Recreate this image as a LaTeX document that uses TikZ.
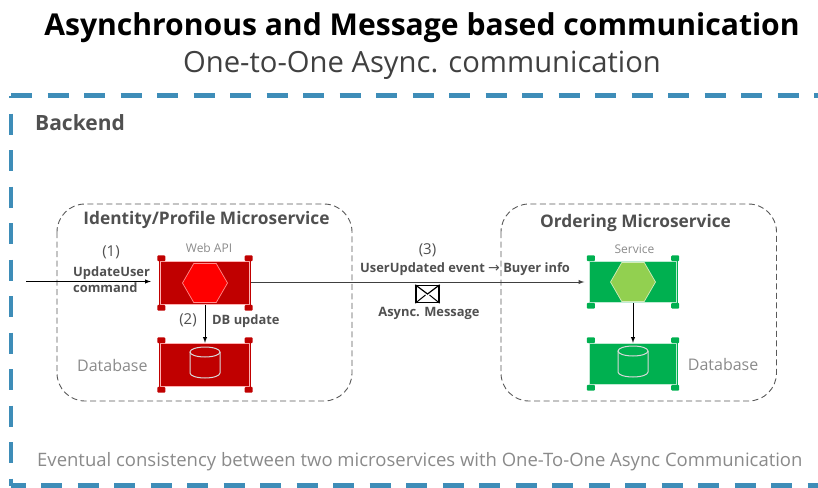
\documentclass[tikz,border=0pt]{standalone}
\usepackage{fontspec}
\setmainfont{Open Sans}
\newfontfamily\arrowfont{DejaVu Sans}
\usepackage{tikz}
\usetikzlibrary{shapes}
\usetikzlibrary{shapes.geometric}
\usetikzlibrary{arrows}
\usetikzlibrary{positioning}

\definecolor{backendblue}{HTML}{3E8DB8}
\definecolor{darkred}{HTML}{C00000}
\definecolor{brightred}{HTML}{FF0000}
\definecolor{okgreen}{HTML}{00B050}
\definecolor{limegreen}{HTML}{92D050}
\definecolor{greytext}{HTML}{8A8A8A}
\definecolor{darktext}{HTML}{505050}

\tikzset{
  svcbox/.style={draw=none, fill=#1, minimum width=92, minimum height=44, inner sep=0},
  svchex/.style 2 args={draw=#1, fill=#2, regular polygon, regular polygon sides=6, minimum size=45, inner sep=0, line width=.7},
  msbox/.style={draw=black!65, dash pattern=on 6 off 3.5, line width=.9, rounded corners=28},
  frameline/.style={-, backendblue, line width=4.5},
  boldlabel/.style={font=\fontsize{12.9}{16}\selectfont\bfseries, text=darktext, inner sep=0},
  thinlabel/.style={font=\fontsize{12}{14}\selectfont, text=greytext, inner sep=0},
  numlabel/.style={font=\fontsize{15}{17}\selectfont, text=darktext, inner sep=0}
}

% corner tabs and inner line of a service box
\newcommand{\boxtabs}[3]{
  \draw [-, #3, line width=.9] ([xshift=1.5,yshift=-.5]#1.north west) rectangle ([xshift=-1.5,yshift=.5]#1.south east);
  \fill [#2, rounded corners=1] ([xshift=-1.5,yshift=5.5]#1.north west) rectangle ([xshift=6.5,yshift=-.4]#1.north west);
  \fill [#2, rounded corners=1] ([xshift=1.5,yshift=5.5]#1.north east) rectangle ([xshift=-6.5,yshift=-.4]#1.north east);
  \fill [#2, rounded corners=1] ([xshift=-1.5,yshift=-5.5]#1.south west) rectangle ([xshift=6.5,yshift=.4]#1.south west);
  \fill [#2, rounded corners=1] ([xshift=1.5,yshift=-5.5]#1.south east) rectangle ([xshift=-6.5,yshift=.4]#1.south east);
}
% database drum inside a service box
\newcommand{\dbdrum}[1]{
  \draw [-, white!85!black, line width=1] ([xshift=-15,yshift=13]#1.center) -- ([xshift=-15,yshift=-8]#1.center)
    arc [start angle=180, end angle=0, x radius=15, y radius=5]
    -- ([xshift=15,yshift=13]#1.center);
  \draw [-, white!85!black, line width=1] ([yshift=13]#1.center) ellipse [x radius=15, y radius=5];
}

\begin{document}
\begin{tikzpicture}[x=1pt, y=-1pt, node distance=82, -latex]
  \useasboundingbox (0,0) rectangle (818,487);

  % titles
  \node [inner sep=0, font=\fontsize{30.1}{34}\selectfont\bfseries] (title) at (422,28) {Asynchronous and Message based communication};
  \node [inner sep=0, font=\fontsize{29.2}{34}\selectfont, text=black!75, below of=title, node distance=37] (subtitle) {One-to-One Async. communication};

  % outer frame
  \coordinate (frametl) at (11,95.5);
  \coordinate (frametr) at (818,95.5);
  \coordinate (framebl) at (11,485.5);
  \coordinate (framebr) at (818,485.5);
  \draw [frameline, dash pattern=on 21 off 15.5] (frametl) -- (frametr);
  \draw [frameline, dash pattern=on 21 off 15.5, dash phase=18.5] (frametl) -- (framebl);
  \draw [frameline, dash pattern=on 21 off 15.5, dash phase=6.5] (framebl) -- (framebr);
  \node [boldlabel, anchor=west, font=\fontsize{21}{24}\selectfont\bfseries] (backend) at (35,123) {Backend};
  \node [thinlabel, anchor=west, font=\fontsize{18.5}{22}\selectfont] (note) at (37,462) {Eventual consistency between two microservices with One-To-One Async Communication};

  % microservice outlines
  \draw [-, msbox] (57,204) rectangle (352,401);
  \draw [-, msbox] (501,204) rectangle (776.5,401);
  \node [boldlabel, font=\fontsize{17.3}{20}\selectfont\bfseries] (identity) at (206.5,220) {Identity/Profile Microservice};
  \node [boldlabel, font=\fontsize{17.3}{20}\selectfont\bfseries] (ordering) at (635.5,223) {Ordering Microservice};

  % service boxes
  \node [svcbox=darkred] (webapi) at (205,283) {};
  \node [svcbox=darkred, below of=webapi] (userdb) {};
  \node [svcbox=okgreen, minimum width=89, minimum height=42] (service) at (633,282) {};
  \node [svcbox=okgreen, minimum width=89, minimum height=42, below of=service] (orderdb) {};
  \boxtabs{webapi}{darkred}{red!30!white}
  \boxtabs{userdb}{darkred}{red!30!white}
  \boxtabs{service}{okgreen}{white!75!okgreen}
  \boxtabs{orderdb}{okgreen}{white!75!okgreen}
  \node [svchex={red!45!white}{brightred}] (webhex) at (webapi) {};
  \node [svchex={white!60!limegreen}{limegreen}] (svchex) at (service) {};
  \dbdrum{userdb}
  \dbdrum{orderdb}

  \node [thinlabel, above=8pt of webapi, xshift=4pt] (webapilabel) {Web API};
  \node [thinlabel, above=7pt of service, xshift=1.5pt] (servicelabel) {Service};
  \node [thinlabel, font=\fontsize{16}{20}\selectfont, left=11pt of userdb] (userdblabel) {Database};
  \node [thinlabel, font=\fontsize{16}{20}\selectfont, right=10pt of orderdb] (orderdblabel) {Database};

  % connectors
  \coordinate (entry) at (26,281.5);
  \draw [black, line width=1, shorten >=8pt] (entry) -- (webapi.west |- entry);
  \draw [black, line width=1] (webapi) -- (userdb);
  \draw [black!75, line width=1, shorten >=4pt] (webapi.east |- service) -- (service);
  \draw [black, line width=1] (service) -- (orderdb);

  % labels
  \node [numlabel] (step1) at (111,252) {(1)};
  \node [boldlabel, align=left, anchor=west] (update) at (73,280) {UpdateUser\\command};
  \node [numlabel] (step2) at (188,320) {(2)};
  \node [boldlabel, anchor=west] (dbupdate) at (212,321) {DB update};
  \node [numlabel] (step3) at (427.5,250.5) {(3)};
  \node [boldlabel, anchor=west] (userupdated) at (360,269) {UserUpdated event {\arrowfont\mdseries\fontsize{14}{14}\selectfont →} Buyer info};
  \node [draw=black, fill=white, line width=1.4, minimum width=23, minimum height=17, inner sep=0] (mail) at (427.5,294) {};
  \draw [-, black, line width=1.2] (mail.north west) -- (mail.center) -- (mail.north east);
  \draw [-, black, line width=1] (mail.south west) -- ([xshift=-2,yshift=-1]mail.center);
  \draw [-, black, line width=1] (mail.south east) -- ([xshift=2,yshift=-1]mail.center);
  \node [boldlabel, below=4pt of mail, xshift=1.5pt] (async) {Async. Message};
\end{tikzpicture}
\end{document}
